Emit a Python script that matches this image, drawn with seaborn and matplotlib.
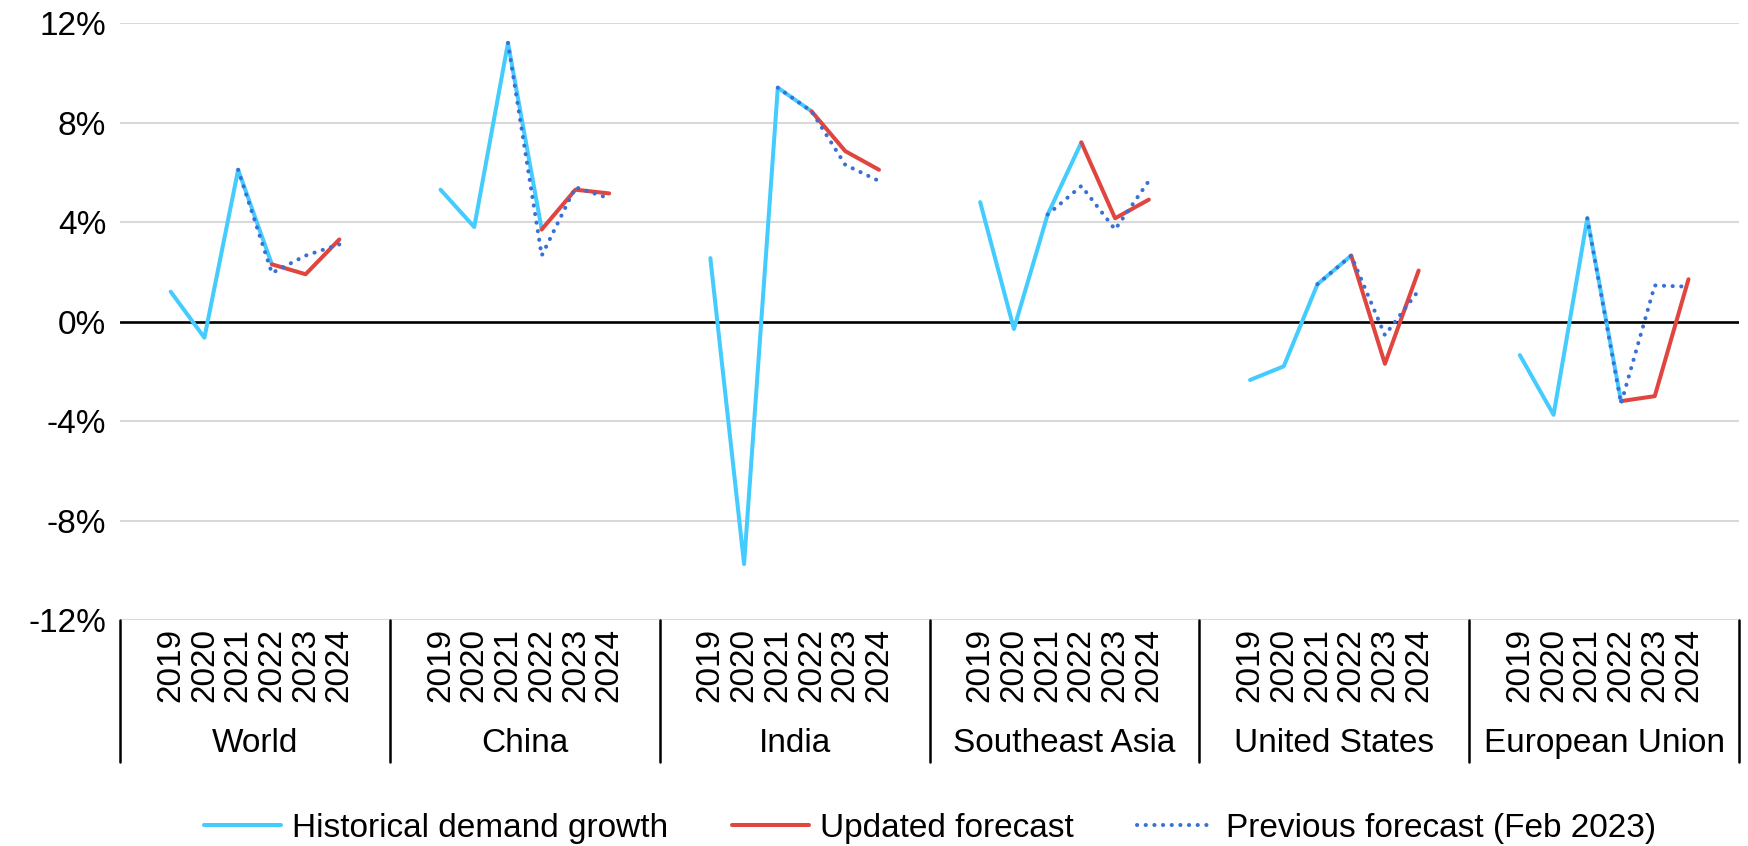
import pandas as pd
import seaborn as sns
import matplotlib.pyplot as plt
import matplotlib.transforms as mtransforms

# categories
regions = ["World", "China", "India", "Southeast Asia", "United States", "European Union"]
years = ["2019", "2020", "2021", "2022", "2023", "2024"]

# demand growth in %, one list per region, years 2019..2024 (None = no value)
historical = [
    [1.2, -0.65, 6.1, 2.3, None, None],
    [5.3, 3.8, 11.2, 3.7, None, None],
    [2.55, -9.75, 9.4, 8.45, None, None],
    [4.8, -0.3, 4.3, 7.2, None, None],
    [-2.35, -1.8, 1.5, 2.65, None, None],
    [-1.35, -3.75, 4.15, -3.2, None, None],
]
updated = [
    [None, None, None, 2.3, 1.9, 3.3],
    [None, None, None, 3.7, 5.3, 5.15],
    [None, None, None, 8.45, 6.85, 6.1],
    [None, None, None, 7.2, 4.15, 4.9],
    [None, None, None, 2.65, -1.7, 2.05],
    [None, None, None, -3.2, -3.0, 1.7],
]
previous = [
    [None, None, 6.1, 1.95, 2.65, 3.1],
    [None, None, 11.2, 2.65, 5.4, 4.95],
    [None, None, 9.4, 8.45, 6.3, 5.65],
    [None, None, 4.3, 5.45, 3.7, 5.65],
    [None, None, 1.5, 2.65, -0.55, 1.25],
    [None, None, 4.15, -3.3, 1.45, 1.4],
]
series_names = ["Historical demand growth", "Updated forecast", "Previous forecast (Feb 2023)"]

# each region gets 8 slots: an empty one, the six years, another empty one
SLOTS = 8

rows = []
for name, table in zip(series_names, [historical, updated, previous]):
    for g, region in enumerate(regions):
        for i, v in enumerate(table[g]):
            if v is not None:
                rows.append({"pos": g * SLOTS + 1 + i, "value": v,
                             "series": name, "region": region})
df = pd.DataFrame(rows)

sns.set_theme(style="white")
plt.rcParams["font.family"] = ["Liberation Sans", "DejaVu Sans"]
plt.rcParams["text.color"] = "black"
FS = 24

fig = plt.figure(figsize=(17.48, 8.46), dpi=100)
ax = fig.add_axes([0.0687, 0.2671, 0.9949 - 0.0687, 0.9728 - 0.2671])

palette = {series_names[0]: "#45CCFF", series_names[1]: "#E0463F", series_names[2]: "#3A6FD6"}
dashes = {series_names[0]: "", series_names[1]: "", series_names[2]: (0.05, 2.1)}

sns.lineplot(data=df, x="pos", y="value", hue="series", style="series",
             units="region", estimator=None, sort=False,
             hue_order=series_names, style_order=series_names,
             palette=palette, dashes=dashes, linewidth=2.9,
             dash_capstyle="round", ax=ax)

ax.set_xlim(-0.5, len(regions) * SLOTS - 0.5)
ax.set_ylim(-12, 12)
yt = [-12, -8, -4, 0, 4, 8, 12]
ax.set_yticks(yt)
ax.set_yticklabels([f"{t}%" for t in yt], fontsize=FS)
for t in yt:
    if t == 0:
        ax.axhline(t, color="black", lw=1.9, zorder=1.5)
    else:
        ax.axhline(t, color="#D9D9D9", lw=1.5, zorder=0.5)

ticks, labels = [], []
for g in range(len(regions)):
    for s in range(SLOTS):
        ticks.append(g * SLOTS + s)
        labels.append(years[s - 1] if 1 <= s <= len(years) else "")
ax.set_xticks(ticks)
ax.set_xticklabels(labels, rotation=90, fontsize=FS)
ax.tick_params(axis="both", length=0, colors="black")
ax.tick_params(axis="y", pad=10)
ax.tick_params(axis="x", pad=6)
ax.set_xlabel("")
ax.set_ylabel("")
for sp in ax.spines.values():
    sp.set_visible(False)

trans = mtransforms.blended_transform_factory(ax.transData, ax.transAxes)
for k in range(len(regions) + 1):
    x = k * SLOTS - 0.5
    ax.plot([x, x], [0, -0.238], transform=trans, color="black", lw=1.8,
            clip_on=False)
for g, region in enumerate(regions):
    ax.text(g * SLOTS + (SLOTS - 1) / 2, -0.207, region, transform=trans,
            ha="center", va="center", fontsize=FS, color="black")

handles, labs = ax.get_legend_handles_labels()
ax.get_legend().remove()
leg = fig.legend(handles, labs, loc="center", bbox_to_anchor=(930 / 1748, 0.021),
                 ncol=3, frameon=False, fontsize=FS, handlelength=2.3,
                 handletextpad=0.35, columnspacing=1.9)
for txt in leg.get_texts():
    txt.set_color("black")

fig.savefig("out.png", dpi=100)
